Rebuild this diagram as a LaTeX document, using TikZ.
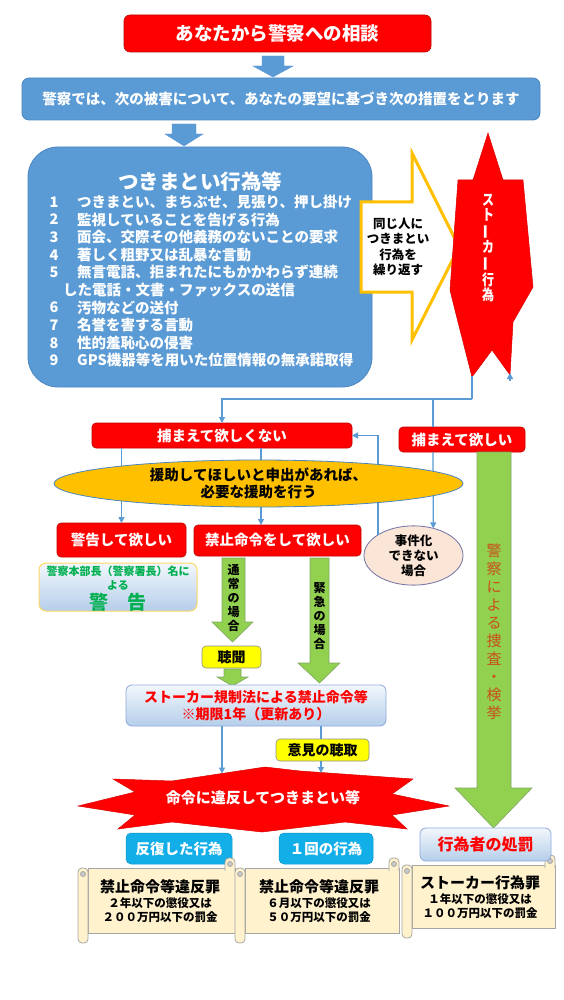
\documentclass[tikz,border=0pt]{standalone}
\usepackage{fontspec}
\setmainfont{Noto Sans CJK JP}
\usepackage{graphicx}
\usetikzlibrary{arrows.meta,shapes.geometric,calc}
\definecolor{pred}{HTML}{FF0000}
\definecolor{pdred}{HTML}{C00000}
\definecolor{pblue}{HTML}{5B9BD5}
\definecolor{pbord}{HTML}{4A86C0}
\definecolor{pyel}{HTML}{FFFF00}
\definecolor{porange}{HTML}{FFC000}
\definecolor{pgrey}{HTML}{8C8C8C}
\definecolor{pcyan}{HTML}{12AEE8}
\definecolor{pgreen}{HTML}{92D050}
\definecolor{pgbord}{HTML}{7FA861}
\definecolor{ppeach}{HTML}{FBE5D6}
\definecolor{pcream}{HTML}{FFF2CC}
\definecolor{pscb}{HTML}{A5A5A5}
\definecolor{gtop}{HTML}{F2F7FC}
\definecolor{gbot}{HTML}{B5CEEA}
\definecolor{gbord}{HTML}{8FAADC}
\definecolor{pgtext}{HTML}{00B050}
\definecolor{pbrown}{HTML}{C8501A}
\definecolor{pkbord}{HTML}{FFD966}
\newcommand\fs[2]{\fontsize{#1}{#2}\selectfont}
\newcommand\vbar{\rotatebox[origin=c]{90}{ー}}
\newcommand\sq[1]{\scalebox{0.8}[1]{#1}}
\newcommand\scrollshape[4]{%
  \filldraw[scrollf] (#1+10,#2+10) rectangle (#3,#4-10);
  \filldraw[scrollf, rounded corners=4pt] (#3-10,#2+13) -- (#3-10,#2) -- (#3,#2) -- (#3,#2+13);
  \filldraw[scrollf, fill=pscb!60] (#3-5,#2+6) circle (2.5pt);
  \filldraw[scrollf, rounded corners=4pt] (#1,#2+10) rectangle (#1+10,#4);
  \filldraw[scrollf, fill=pscb!60] (#1+5,#2+16) circle (2.5pt);
}
\begin{document}
\begin{tikzpicture}[x=1pt,y=-1pt,
  bx/.style={inner sep=0pt, outer sep=0pt},
  redbox/.style={bx, fill=pred, draw=pdred, line width=0.6pt, rounded corners=4pt, text=white},
  bluebox/.style={bx, fill=pblue, draw=pbord, line width=0.8pt, text=white},
  ybox/.style={bx, fill=pyel, draw=pgrey, line width=0.6pt, rounded corners=4pt, text=black},
  cbox/.style={bx, fill=pcyan, draw=pcyan!85!black, line width=0.5pt, rounded corners=5pt, text=white},
  gradbox/.style={bx, top color=gtop, bottom color=gbot, draw=gbord, line width=0.8pt, rounded corners=6pt},
  wt/.style={inner sep=0pt, text=white},
  bt/.style={inner sep=0pt, text=black},
  conn/.style={draw=pblue, line width=1.3pt},
  arr/.style={conn, -{Triangle[length=6pt,width=6pt]}},
  garrow/.style={fill=pgreen, draw=pgbord, line width=0.6pt},
  barrow/.style={fill=pblue, draw=pblue},
  scrollf/.style={fill=pcream, draw=pscb, line width=0.8pt},
]
\fill[white] (0,0) rectangle (563,1000);
\path[use as bounding box] (0,0) rectangle (563,1000);

% --- top
\node[redbox, minimum width=307pt, minimum height=37pt, rounded corners=6pt, font=\fs{18.5}{20}\bfseries] (title) at (277.5,33.5) {あなたから警察への相談};
\filldraw[barrow] (262,56) -- (284,56) -- (284,66) -- (293,66) -- (273,77) -- (253,66) -- (262,66) -- cycle;
\node[bluebox, rounded corners=7pt, minimum width=518pt, minimum height=42pt, font=\fs{14.5}{16}\bfseries] (wide) at (281,99) {警察では、次の被害について、あなたの要望に基づき次の措置をとります};
\filldraw[barrow] (172,124) -- (196,124) -- (196,134) -- (203,134) -- (184,146) -- (165,134) -- (172,134) -- cycle;

% --- big blue box
\node[bluebox, minimum width=344pt, minimum height=240pt, rounded corners=30pt] (big) at (200,267) {};
\node[wt, font=\fs{20.5}{22}\bfseries] (bigt) at (200,182) {つきまとい行為等};
\begin{scope}[every node/.style={inner sep=0pt, text=white, font=\fs{14.5}{16}\bfseries}]
\node (n1) at (54,202) {1};
\node[anchor=west] (i1) at (77,202) {つきまとい、まちぶせ、見張り、押し掛け};
\node (n2) at (54,219.6) {2};
\node[anchor=west] (i2) at (77,219.6) {監視していることを告げる行為};
\node (n3) at (54,237.2) {3};
\node[anchor=west] (i3) at (77,237.2) {面会、交際その他義務のないことの要求};
\node (n4) at (54,254.8) {4};
\node[anchor=west] (i4) at (77,254.8) {著しく粗野又は乱暴な言動};
\node (n5) at (54,272.4) {5};
\node[anchor=west] (i5) at (77,272.4) {無言電話、拒まれたにもかかわらず連続};
\node[anchor=west] (i5b) at (63,290) {した電話・文書・ファックスの送信};
\node (n6) at (54,307.6) {6};
\node[anchor=west] (i6) at (77,307.6) {汚物などの送付};
\node (n7) at (54,325.2) {7};
\node[anchor=west] (i7) at (77,325.2) {名誉を害する言動};
\node (n8) at (54,342.8) {8};
\node[anchor=west] (i8) at (77,342.8) {性的羞恥心の侵害};
\node (n9) at (54,360.4) {9};
\node[anchor=west] (i9) at (77,360.4) {GPS機器等を用いた位置情報の無承諾取得};
\end{scope}

% --- yellow outlined arrow
\filldraw[fill=white, draw=porange, line width=3pt, line join=miter]
  (361,202) -- (412,202) -- (412,153) -- (459,247) -- (412,340) -- (412,292) -- (361,292) -- cycle;
\node[bt, align=center, font=\fs{12.5}{15.3}\bfseries] (rep) at (398,247) {同じ人に\\つきまとい\\行為を\\繰り返す};

% --- star: stalking
\filldraw[fill=pred, draw=pred!85!black, line width=0.5pt]
  (488,133) -- (503,180) -- (523,180) -- (533,287) -- (513,322) -- (510,375) -- (492,350)
  -- (472,377) -- (458,322) -- (450,290) -- (458,180) -- (473,180) -- cycle;
\node[wt, align=center, font=\fs{15}{15}\bfseries] (stk) at (488,248) {\sq{ス}\\\sq{ト}\\\vbar\\\sq{カ}\\\vbar\\\sq{行}\\\sq{為}};
\coordinate (tipL) at (472,376);
\coordinate (tipR) at (510,373);
\coordinate (j1) at (472,399);
\coordinate (j2) at (433,399);
\draw[arr] (510,381) -- (tipR);

% --- decision boxes
\node[redbox, minimum width=260pt, minimum height=25pt, font=\fs{14.5}{16}\bfseries] (nokamae) at (222,435.5) {捕まえて欲しくない};
\node[redbox, minimum width=126pt, minimum height=25pt, font=\fs{14.5}{16}\bfseries] (tsukamae) at (462,439.5) {捕まえて欲しい};
\node[redbox, minimum width=129pt, minimum height=34pt, font=\fs{14.5}{16}\bfseries] (keikokuH) at (121.5,540) {警告して欲しい};
\node[redbox, minimum width=167pt, minimum height=31pt, font=\fs{14.5}{16}\bfseries] (kinshiH) at (277.5,540.5) {禁止命令をして欲しい};
\node[bx, ellipse, fill=ppeach, draw=pgrey!80!blue, line width=0.8pt, minimum width=99pt, minimum height=55pt, align=center, font=\fs{12.5}{15}\bfseries] (jiken) at (413.5,555.5) {事件化\\できない\\場合};

% connectors
\coordinate (c261) at (261,0);
\draw[conn] (tipL) -- (j1);
\draw[arr] (j1) -| (nokamae.north);
\draw[conn] (j2) -- (tsukamae.north -| j2);
\draw[arr] (tsukamae.south -| j2) -- (jiken.54);
\draw[arr] (jiken.150) |- (nokamae.east);
\draw[arr] (nokamae.south -| keikokuH.north) -- (keikokuH.north);
\draw[arr] (nokamae.south -| c261) -- (kinshiH.north -| c261);

\node[bx, ellipse, fill=porange, draw=pbord, line width=0.8pt, minimum width=409pt, minimum height=47pt, align=center, font=\fs{14.5}{16.5}\bfseries] (enjo) at (258.5,483.5) {援助してほしいと申出があれば、\\必要な援助を行う};

% --- warning box
\node[bx, top color=gtop, bottom color=gbot, draw=pkbord, line width=1pt, rounded corners=7pt, minimum width=158pt, minimum height=48pt] (keikokuB) at (118,587) {};
\node[inner sep=0pt, text=pgtext, font=\fs{11}{13}\bfseries] (kb1) at (118,571) {警察本部長（警察署長）名に};
\node[inner sep=0pt, text=pgtext, font=\fs{11}{13}\bfseries] (kb2) at (118,585) {よる};
\node[inner sep=0pt, text=pgtext, font=\fs{19}{20}\bfseries] (kb3) at (118,602) {警　告};

% --- green arrows
\filldraw[garrow] (222,558) -- (245,558) -- (245,622) -- (253,622) -- (232.5,642) -- (212,622) -- (222,622) -- cycle;
\node[bt, align=center, font=\fs{12}{13.8}\bfseries] (tsujo) at (233.5,598) {通\\常\\の\\場\\合};
\filldraw[garrow] (310,558) -- (329,558) -- (329,663) -- (340,663) -- (319.5,683) -- (298,663) -- (310,663) -- cycle;
\node[bt, align=center, font=\fs{12}{13.8}\bfseries] (kinkyu) at (319.5,616) {緊\\急\\の\\場\\合};
\node[ybox, minimum width=59pt, minimum height=22pt, font=\fs{14}{15}\bfseries] (chokan) at (231.5,657) {聴聞};
\filldraw[garrow] (224,669) -- (241,669) -- (241,677) -- (248,677) -- (232.5,686) -- (217,677) -- (224,677) -- cycle;

\node[gradbox, minimum width=260pt, minimum height=41pt, align=center, text=pred, font=\fs{14}{17}\bfseries] (kisei) at (256,705.5) {ストーカー規制法による禁止命令等\\※期限1年（更新あり）};
\node[ybox, minimum width=93pt, minimum height=22pt, font=\fs{14}{15}\bfseries] (iken) at (322.5,750) {意見の聴取};

% right big green arrow
\filldraw[garrow] (477,452) -- (511,452) -- (511,788) -- (532,788) -- (493.5,828) -- (455,788) -- (477,788) -- cycle;
\node[inner sep=0pt, text=pbrown, align=center, font=\fs{15}{18}] (sousa) at (494,631.5) {警\\察\\に\\よ\\る\\捜\\査\\・\\検\\挙};

% --- violation star
\filldraw[fill=pred, draw=pred!85!black, line width=0.5pt]
  (78,806) -- (135,792) -- (113,779) -- (172,781) -- (265,767) -- (300,771) -- (413,779)
  -- (392,794) -- (449,806) -- (392,815) -- (407,829) -- (345,822) -- (262,832) -- (172,822)
  -- (118,829) -- (135,815) -- cycle;
\node[wt, font=\fs{15}{16}\bfseries] (ihan) at (263,798) {命令に違反してつきまとい等};
\coordinate (s2a) at (222,773.5);
\coordinate (s2b) at (321,773);
\coordinate (c321) at (321,0);
\draw[arr] (kisei.south -| s2a) -- (s2a);
\draw[conn] (kisei.south -| c321) -- (iken.north -| c321);
\draw[arr] (iken.south -| c321) -- (s2b);

% --- bottom
\node[cbox, minimum width=106pt, minimum height=31pt, font=\fs{14.5}{16}\bfseries] (hanpuku) at (179,848.5) {反復した行為};
\node[cbox, minimum width=94pt, minimum height=31pt, font=\fs{14.5}{16}\bfseries] (ikkai) at (326,848.5) {１回の行為};

\scrollshape{78}{858}{235}{943}
\scrollshape{235}{858}{399}{943}
\scrollshape{402}{855}{555}{938}

\node[gradbox, minimum width=131pt, minimum height=33pt, text=pred, font=\fs{16}{17}\bfseries] (shobatsu) at (485.5,844.5) {行為者の処罰};

\node[bt, font=\fs{15}{16}\bfseries] (t1a) at (160,887) {禁止命令等違反罪};
\node[bt, font=\fs{11.5}{13}\bfseries] (t1b) at (160,903) {２年以下の懲役又は};
\node[bt, font=\fs{11.5}{13}\bfseries] (t1c) at (160,917) {２００万円以下の罰金};
\node[bt, font=\fs{15}{16}\bfseries] (t2a) at (319,887) {禁止命令等違反罪};
\node[bt, font=\fs{11.5}{13}\bfseries] (t2b) at (319,903) {６月以下の懲役又は};
\node[bt, font=\fs{11.5}{13}\bfseries] (t2c) at (319,917) {５０万円以下の罰金};
\node[bt, font=\fs{15}{16}\bfseries] (t3a) at (480,883) {ストーカー行為罪};
\node[bt, font=\fs{11.5}{13}\bfseries] (t3b) at (480,899) {１年以下の懲役又は};
\node[bt, font=\fs{11.5}{13}\bfseries] (t3c) at (480,913) {１００万円以下の罰金};
\end{tikzpicture}
\end{document}
